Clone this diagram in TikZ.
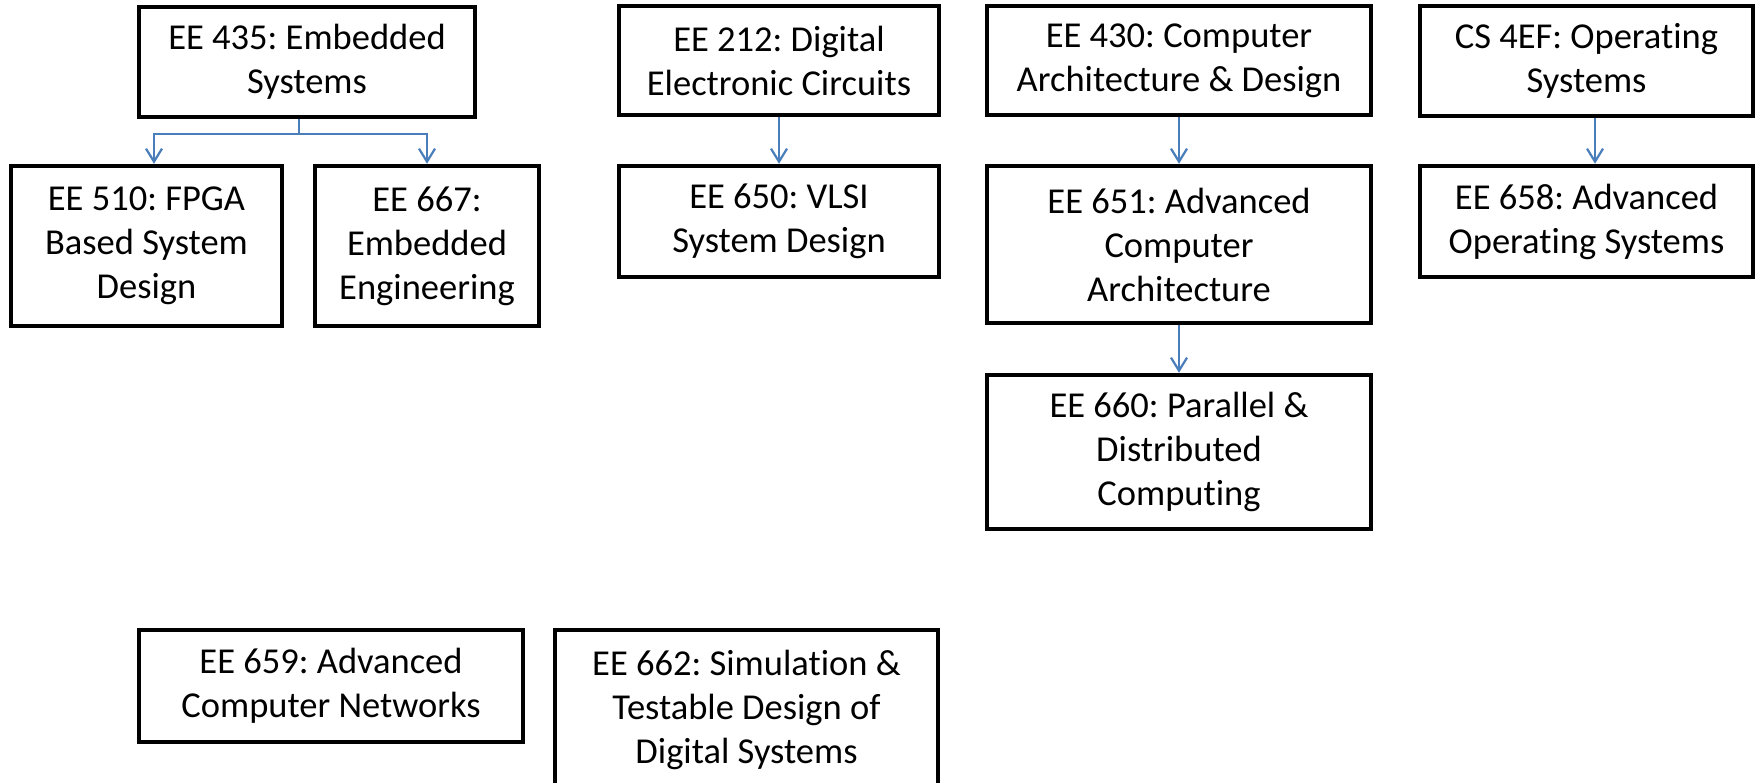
\documentclass[tikz,border=0pt]{standalone}
\usepackage{fontspec}
\setmainfont{Carlito}[Ligatures={NoCommon}]
\usetikzlibrary{arrows.meta}
\definecolor{connblue}{HTML}{4A7EBB}
\frenchspacing
\tikzset{
  course/.style={draw=black, line width=4.5pt, rectangle, align=center, inner sep=0pt,
    font=\frenchspacing\fontsize{36.5pt}{44pt}\selectfont, text=black},
  conn/.style={draw=connblue, line width=2pt},
  connarrow/.style={conn, -{Straight Barb[length=13pt,width=16pt,line width=2.2pt]}}
}
\begin{document}
\begin{tikzpicture}[x=1pt,y=-1pt]
\useasboundingbox (0,0) rectangle (1758,782);
\clip (0,0) rectangle (1758,782);
\fill[white] (0,0) rectangle (1758,782);

\node[course, minimum width=336pt, minimum height=110pt] (e435) at (307,62) {EE 435: Embedded\\Systems};
\node[course, minimum width=271pt, minimum height=160pt] (e510) at (146.5,246) {EE 510: FPGA\\Based System\\Design};
\node[course, minimum width=224pt, minimum height=160pt] (e667) at (427,246) {EE 667:\\Embedded\\Engineering};

\node[course, minimum width=320pt, minimum height=109pt] (e212) at (779,60.5) {EE 212: Digital\\Electronic Circuits};
\node[course, minimum width=320pt, minimum height=111pt] (e650) at (779,221.5) {EE 650: VLSI\\System Design};

\node[course, minimum width=384pt, minimum height=109pt] (e430) at (1179,60.5) {EE 430: Computer\\Architecture \& Design};
\node[course, minimum width=384pt, minimum height=157pt] (e651) at (1179,244.5) {EE 651: Advanced\\Computer\\Architecture};
\node[course, minimum width=384pt, minimum height=154pt] (e660) at (1179,452) {EE 660: Parallel \&\\Distributed\\Computing};

\node[course, minimum width=333pt, minimum height=110pt] (c4ef) at (1586.5,61) {CS 4EF: Operating\\Systems};
\node[course, minimum width=333pt, minimum height=111pt] (e658) at (1586.5,221.5) {EE 658: Advanced\\Operating Systems};

\node[course, minimum width=384pt, minimum height=112pt] (e659) at (331,686) {EE 659: Advanced\\Computer Networks};
\node[course, minimum width=383pt, minimum height=160pt] (e662) at (746.5,710) {EE 662: Simulation \&\\Testable Design of\\Digital Systems};

% connectors
\draw[conn] ([xshift=-8pt]e435.south) -- ++(0,15) coordinate (j435);
\draw[connarrow] (j435) -| ([xshift=7.5pt]e510.north);
\draw[connarrow] (j435) -| (e667.north);
\draw[connarrow] (e212.south) -- (e650.north);
\draw[connarrow] (e430.south) -- (e651.north);
\draw[connarrow] (e651.south) -- (e660.north);
\draw[connarrow] ([xshift=8.5pt]c4ef.south) -- ([xshift=8.5pt]e658.north);
\end{tikzpicture}
\end{document}
